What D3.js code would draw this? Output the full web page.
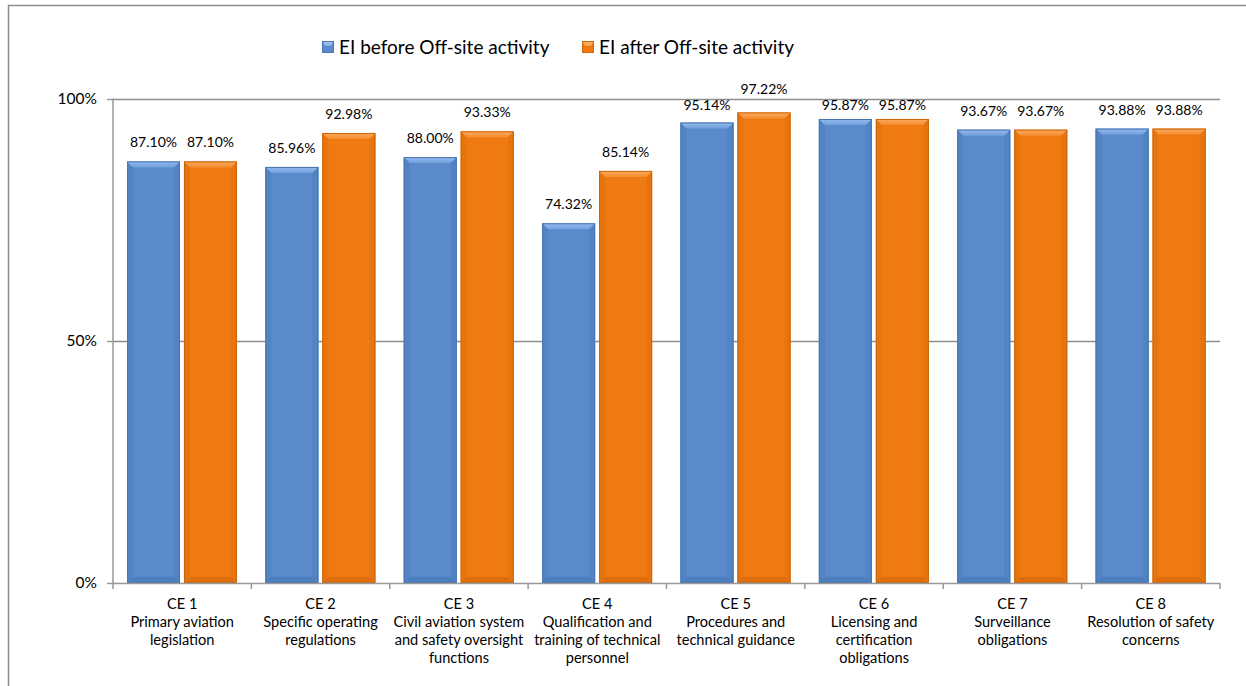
<!DOCTYPE html>
<html><head><meta charset="utf-8">
<script src="https://cdn.jsdelivr.net/npm/d3@7"></script>
<style>
html,body{margin:0;padding:0;background:#fff;}
svg{display:block;font-family:Lato,"Open Sans",sans-serif;}
</style></head>
<body>
<svg id="chart" width="1246" height="686"></svg>
<script>
const categories = ["CE 1","CE 2","CE 3","CE 4","CE 5","CE 6","CE 7","CE 8"];
const categoryLines = [
  ["CE 1","Primary aviation","legislation"],
  ["CE 2","Specific operating","regulations"],
  ["CE 3","Civil aviation system","and safety oversight","functions"],
  ["CE 4","Qualification and","training of technical","personnel"],
  ["CE 5","Procedures and","technical guidance"],
  ["CE 6","Licensing and","certification","obligations"],
  ["CE 7","Surveillance","obligations"],
  ["CE 8","Resolution of safety","concerns"]
];
const seriesNames = ["EI before Off-site activity","EI after Off-site activity"];
const before = [0.8710,0.8596,0.8800,0.7432,0.9514,0.9587,0.9367,0.9388];
const after  = [0.8710,0.9298,0.9333,0.8514,0.9722,0.9587,0.9367,0.9388];
const yTicks = [0,0.5,1];

(function(){
const svg = d3.select("#chart");
const pL=113,pR=1220,pT=99,pB=583;

svg.append("rect").attr("x",8.5).attr("y",5.5).attr("width",1300).attr("height",800)
  .attr("fill","none").attr("stroke","#8c8c8c").attr("stroke-width",1.5);

const x = d3.scaleBand().domain(categories).range([pL,pR]).paddingInner(0).paddingOuter(0);
const bw = x.bandwidth();
const x1 = d3.scaleBand().domain(["before","after"]).range([14, bw-14.4]).paddingInner(0.0702);
const y = d3.scaleLinear().domain([0,1]).range([pB,pT]);

const colors = {
  before:{main:"#5A8ACB",light:"#93BBEE",top2:"#72A0DC",dark:"#3F6EAE",edge:"#4A75AE",side:"#5283C3"},
  after:{main:"#F07A12",light:"#FCAA5E",top2:"#F48D30",dark:"#C85F08",edge:"#C9660E",side:"#E8740E"}
};

const defs = svg.append("defs");
["before","after"].forEach(k=>{
  const c=colors[k];
  const g=defs.append("linearGradient").attr("id","top-"+k).attr("x1",0).attr("y1",0).attr("x2",0).attr("y2",1);
  g.append("stop").attr("offset","0%").attr("stop-color",c.light);
  g.append("stop").attr("offset","100%").attr("stop-color",c.top2);
});

svg.append("g").selectAll("line").data(yTicks.filter(d=>d>0)).join("line")
  .attr("x1",pL).attr("x2",pR).attr("y1",d=>y(d)+0.5).attr("y2",d=>y(d)+0.5)
  .attr("stroke","#8e8e8e").attr("stroke-width",1.5);

function bevelBar(g,bx,by,w,h,k){
  const c=colors[k]; const b=Math.min(6,h/2);
  g.append("rect").attr("x",bx).attr("y",by).attr("width",w).attr("height",h).attr("fill",c.main);
  g.append("polygon").attr("points",[[bx,by],[bx+b,by+b],[bx+b,by+h-b],[bx,by+h]].join(" ")).attr("fill",c.side);
  g.append("polygon").attr("points",[[bx+w,by],[bx+w-b,by+b],[bx+w-b,by+h-b],[bx+w,by+h]].join(" ")).attr("fill",c.side);
  g.append("polygon").attr("points",[[bx,by+h],[bx+b,by+h-b],[bx+w-b,by+h-b],[bx+w,by+h]].join(" ")).attr("fill",c.dark).attr("opacity",0.45);
  g.append("polygon").attr("points",[[bx,by],[bx+w,by],[bx+w-b,by+b],[bx+b,by+b]].join(" ")).attr("fill","url(#top-"+k+")");
  g.append("rect").attr("x",bx+0.5).attr("y",by+0.5).attr("width",w-1).attr("height",h-1).attr("fill","none").attr("stroke",c.edge).attr("stroke-width",1);
}

function labelY(by){
  let b = by - 14;
  if (b - 10 < pT && b > pT - 2) {
    b = (b - pT < 5) ? pT - 5 : pT + 11;
  }
  return b;
}

const rows = categories.map((c,i)=>({cat:c,vals:[{k:"before",v:before[i]},{k:"after",v:after[i]}]}));
const barG = svg.append("g");
rows.forEach(r=>{
  r.vals.forEach(d=>{
    const bx = x(r.cat)+x1(d.k);
    const by = y(d.v);
    bevelBar(barG,bx,by,x1.bandwidth(),pB-by,d.k);
    barG.append("text").attr("x",bx+x1.bandwidth()/2).attr("y",labelY(by))
      .attr("text-anchor","middle").attr("font-size",14).attr("fill","#000")
      .text(d3.format(".2%")(d.v));
  });
});

const yAxis = d3.axisLeft(y).tickValues(yTicks).tickFormat(d3.format(".0%")).tickSize(6).tickPadding(10);
const ya = svg.append("g").attr("transform",`translate(${pL},0)`).call(yAxis);
ya.select(".domain").attr("stroke","#999").attr("stroke-width",1.5).attr("d",`M0,${pT-0.5}V${pB}`);
ya.selectAll(".tick line").attr("stroke","#999").attr("stroke-width",1.5);
ya.selectAll(".tick text").attr("font-size",15.5).attr("fill","#000").attr("font-family","Lato,sans-serif");

svg.append("line").attr("x1",pL).attr("x2",pR).attr("y1",pB+0.5).attr("y2",pB+0.5)
  .attr("stroke","#999").attr("stroke-width",1.5);
const bounds = categories.map(c=>x(c)).concat([pR]);
svg.append("g").selectAll("line").data(bounds).join("line")
  .attr("x1",d=>d).attr("x2",d=>d).attr("y1",pB).attr("y2",pB+6)
  .attr("stroke","#999").attr("stroke-width",1.5);

const lab = svg.append("g");
categories.forEach((c,i)=>{
  const t = lab.append("text").attr("x",x(c)+bw/2).attr("y",609)
    .attr("text-anchor","middle").attr("font-size",14.6).attr("fill","#000");
  categoryLines[i].forEach((ln,j)=>{
    t.append("tspan").attr("x",x(c)+bw/2).attr("dy",j===0?0:18).text(ln);
  });
});

const legend = svg.append("g");
const legX = [322,582];
function bevelLegend(bx,by,w,h,k){
  const c=colors[k]; const b=3;
  legend.append("rect").attr("x",bx).attr("y",by).attr("width",w).attr("height",h).attr("fill",c.main);
  legend.append("polygon").attr("points",[[bx,by],[bx+w,by],[bx+w-b,by+b*1.6],[bx+b,by+b*1.6]].join(" ")).attr("fill",c.light);
  legend.append("rect").attr("x",bx+0.5).attr("y",by+0.5).attr("width",w-1).attr("height",h-1).attr("fill","none").attr("stroke",c.edge);
}
seriesNames.forEach((n,i)=>{
  const k = i===0?"before":"after";
  bevelLegend(legX[i],41,12,12,k);
  legend.append("text").attr("x",legX[i]+17).attr("y",54).attr("font-size",19).attr("fill","#000").text(n);
});
})();
</script>
</body></html>
